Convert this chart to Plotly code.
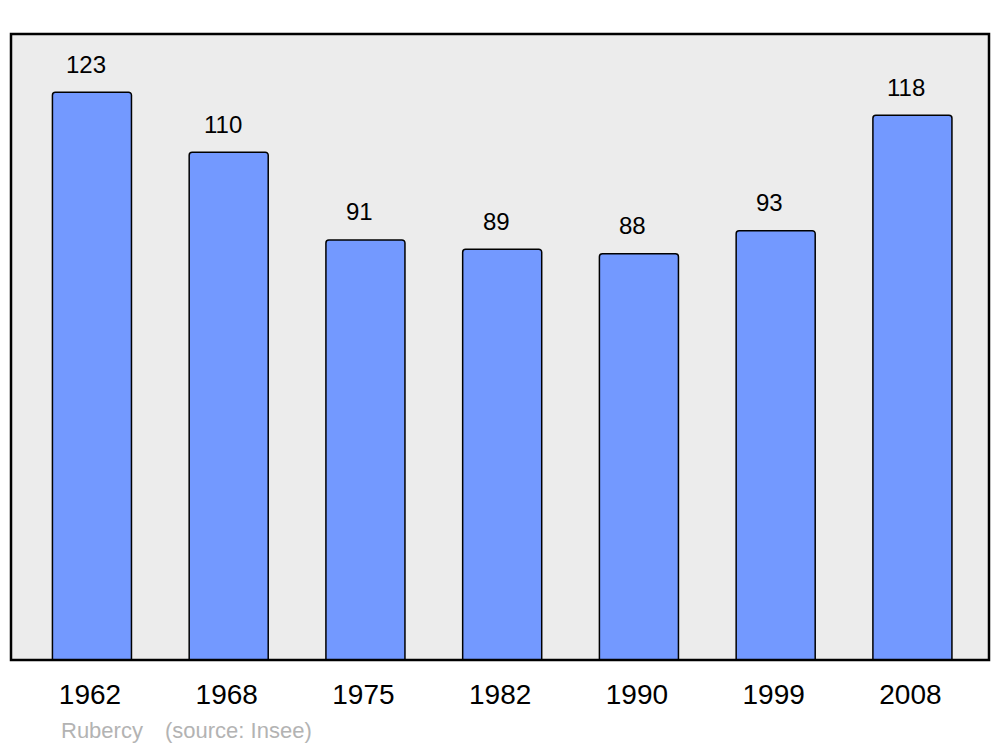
import plotly.graph_objects as go

years = ["1962", "1968", "1975", "1982", "1990", "1999", "2008"]
population = [123, 110, 91, 89, 88, 93, 118]
commune = "Rubercy"
source = "(source: Insee)"

FONT = "Liberation Sans, Arial, sans-serif"

fig = go.Figure()
fig.add_trace(go.Bar(
    x=years, y=population,
    width=0.578,
    marker=dict(color="#7399ff", line=dict(color="black", width=1.5), cornerradius=3),
    hoverinfo="skip",
))

for i, v in enumerate(population):
    fig.add_annotation(x=i, y=v, text=str(v), showarrow=False,
                       xref="x", yref="y", yanchor="middle", yshift=28, xshift=-6,
                       font=dict(family=FONT, size=24, color="black"))

fig.add_annotation(x=(59 - 11) / 978, y=(660 - 730) / 626, xref="paper", yref="paper",
                   xanchor="left", yanchor="middle", text=commune, showarrow=False,
                   font=dict(family=FONT, size=22, color="#b3b3b3"))
fig.add_annotation(x=(163 - 11) / 978, y=(660 - 730) / 626, xref="paper", yref="paper",
                   xanchor="left", yanchor="middle", text=source, showarrow=False,
                   font=dict(family=FONT, size=22, color="#b3b3b3"))

fig.add_shape(type="rect", xref="paper", yref="paper", x0=0, x1=1, y0=0, y1=1,
              line=dict(color="black", width=2.5), layer="above")

fig.update_layout(
    width=1000, height=747,
    margin=dict(l=11, r=11, t=34, b=87),
    paper_bgcolor="white", plot_bgcolor="#ececec",
    showlegend=False,
    xaxis=dict(type="category", range=[-0.592, 6.56], showgrid=False, zeroline=False, showline=False,
               ticks="", tickfont=dict(family=FONT, size=28, color="black"),
               ticklabelstandoff=15, ticklabelshift=-2),
    yaxis=dict(range=[0, 135.6], showgrid=False, zeroline=False, showticklabels=False, showline=False),
)

fig.write_html("out.html", config={"displayModeBar": False},
               post_script="document.body.style.margin='0';document.body.style.overflow='hidden';")
